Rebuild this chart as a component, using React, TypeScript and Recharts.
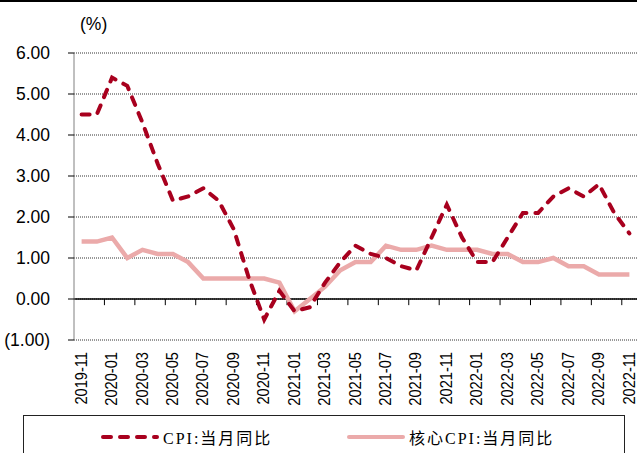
import React from 'react';
import {
  LineChart,
  Line,
  XAxis,
  YAxis,
  CartesianGrid,
  ReferenceLine,
  Legend
} from 'recharts';

const MONTHS = [
  '2019-11', '2019-12',
  '2020-01', '2020-02', '2020-03', '2020-04', '2020-05', '2020-06',
  '2020-07', '2020-08', '2020-09', '2020-10', '2020-11', '2020-12',
  '2021-01', '2021-02', '2021-03', '2021-04', '2021-05', '2021-06',
  '2021-07', '2021-08', '2021-09', '2021-10', '2021-11', '2021-12',
  '2022-01', '2022-02', '2022-03', '2022-04', '2022-05', '2022-06',
  '2022-07', '2022-08', '2022-09', '2022-10', '2022-11',
];

const CPI = [
  4.5, 4.5,
  5.4, 5.2, 4.3, 3.3, 2.4, 2.5, 2.7, 2.4, 1.7, 0.5, -0.5, 0.2,
  -0.3, -0.2, 0.4, 0.9, 1.3, 1.1, 1.0, 0.8, 0.7, 1.5, 2.3, 1.5,
  0.9, 0.9, 1.5, 2.1, 2.1, 2.5, 2.7, 2.5, 2.8, 2.1, 1.6,
];

const CORE_CPI = [
  1.4, 1.4,
  1.5, 1.0, 1.2, 1.1, 1.1, 0.9, 0.5, 0.5, 0.5, 0.5, 0.5, 0.4,
  -0.3, 0.0, 0.3, 0.7, 0.9, 0.9, 1.3, 1.2, 1.2, 1.3, 1.2, 1.2,
  1.2, 1.1, 1.1, 0.9, 0.9, 1.0, 0.8, 0.8, 0.6, 0.6, 0.6,
];

const Y_TICKS = [-1, 0, 1, 2, 3, 4, 5, 6];
// label every second month
const X_TICKS = MONTHS.map((_, i) => i).filter((i) => i % 2 === 0);
// small tick marks sit on the category boundaries, every two months
const X_MARKS = X_TICKS.slice(1).map((i) => i - 0.5);

const CPI_COLOR = '#A8001E';
const CORE_COLOR = '#EBAAAA';

const data = MONTHS.map((m, i) => ({ i, month: m, cpi: CPI[i], core: CORE_CPI[i] }));

const fmtY = (v: number) => (v < 0 ? `(${Math.abs(v).toFixed(2)})` : v.toFixed(2));

const MonthTick = (props: any) => {
  const { x, y, payload } = props;
  // the original uses a narrow face: squeeze along the text direction
  return (
    <g transform={`translate(${x},${y + 12})`}>
      <text
        transform="rotate(-90) scale(0.86,1)"
        textAnchor="end"
        dy="0.3em"
        fill="#000"
        fontFamily="Liberation Sans, Arial, sans-serif"
        fontSize={17}
      >
        {MONTHS[payload.value]}
      </text>
    </g>
  );
};

const LegendBox = (props: any) => {
  const { payload } = props;
  const lefts = [77, 323];
  return (
    <div
      style={{
        position: 'relative',
        width: 602,
        height: 60,
        border: '1px solid #222',
        boxSizing: 'border-box',
        background: '#fff'
      }}
    >
      {(payload || []).map((entry: any, idx: number) => (
        <div
          key={entry.value}
          style={{
            position: 'absolute',
            left: lefts[idx],
            top: 9,
            display: 'flex',
            alignItems: 'center',
            whiteSpace: 'nowrap'
          }}
        >
          <svg width={58} height={10} style={{ marginRight: 4 }}>
            <line
              x1={2}
              y1={5}
              x2={56}
              y2={5}
              stroke={entry.color}
              strokeWidth={4}
              strokeLinecap="round"
              strokeDasharray={entry.payload?.strokeDasharray}
            />
          </svg>
          <span
            style={{
              fontFamily: 'Liberation Serif, "Noto Sans CJK SC", serif',
              fontSize: 16,
              letterSpacing: 2,
              color: '#000'
            }}
          >
            {entry.value}
          </span>
        </div>
      ))}
    </div>
  );
};

export default function App() {
  return (
    <div
      style={{
        position: 'absolute',
        left: 0,
        top: 0,
        width: 637,
        height: 453,
        overflow: 'hidden',
        background: '#fff'
      }}
    >
      <div style={{ position: 'absolute', left: 0, top: 0, width: 637, height: 2, background: '#000' }} />
      <div
        style={{
          position: 'absolute',
          left: 80,
          top: 14,
          fontFamily: 'Liberation Sans, Arial, sans-serif',
          fontSize: 17.5,
          color: '#000'
        }}
      >
        (%)
      </div>
      <LineChart
        width={637}
        height={453}
        data={data}
        margin={{ top: 53, right: 0, left: 0, bottom: 0 }}
      >
        <CartesianGrid vertical={false} stroke="#333" strokeDasharray="1 1" />
        <XAxis
          dataKey="i"
          type="number"
          domain={[-0.5, MONTHS.length - 0.5]}
          ticks={X_TICKS}
          interval={0}
          tick={<MonthTick />}
          tickLine={false}
          axisLine={false}
          tickSize={0}
          tickMargin={0}
          height={113}
        />
        <YAxis
          domain={[-1, 6]}
          ticks={Y_TICKS}
          tickFormatter={fmtY}
          width={74}
          tickSize={6}
          tickMargin={18}
          axisLine={{ stroke: '#808080' }}
          tickLine={{ stroke: '#000' }}
          tick={{ fill: '#000', fontFamily: 'Liberation Sans, Arial, sans-serif', fontSize: 17.5 }}
        />
        <ReferenceLine y={0} stroke="#000" strokeWidth={1.3} />
        {X_MARKS.map((m) => (
          <ReferenceLine
            key={m}
            segment={[{ x: m, y: 0 }, { x: m, y: -0.15 }]}
            stroke="#000"
            strokeWidth={1}
          />
        ))}
        <Line
          type="linear"
          dataKey="core"
          name="核心CPI:当月同比"
          stroke={CORE_COLOR}
          strokeWidth={4.5}
          dot={false}
          isAnimationActive={false}
        />
        <Line
          type="linear"
          dataKey="cpi"
          name="CPI:当月同比"
          stroke={CPI_COLOR}
          strokeWidth={4}
          strokeDasharray="8 9"
          strokeLinecap="round"
          dot={false}
          isAnimationActive={false}
        />
        <Legend
          layout="horizontal"
          verticalAlign="middle"
          align="center"
          payload={[
            { value: 'CPI:当月同比', type: 'line', color: CPI_COLOR, payload: { strokeDasharray: '8 9' } } as any,
            { value: '核心CPI:当月同比', type: 'line', color: CORE_COLOR, payload: { strokeDasharray: undefined } } as any
          ]}
          content={<LegendBox />}
          wrapperStyle={{ position: 'absolute', left: 23, top: 415, width: 602 }}
        />
      </LineChart>
    </div>
  );
}
